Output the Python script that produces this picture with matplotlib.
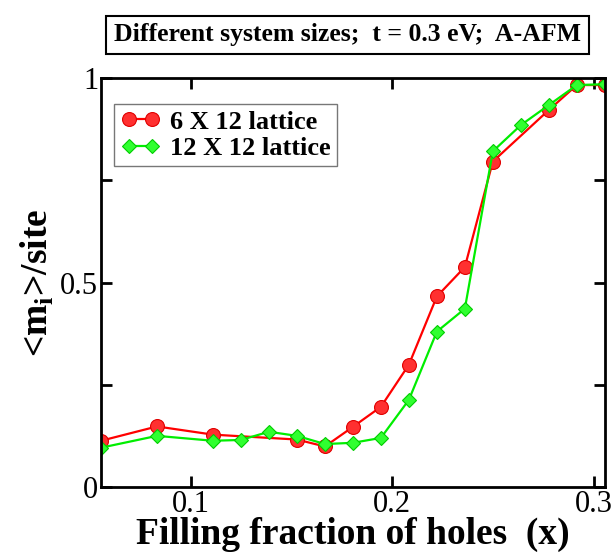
import numpy as np
import matplotlib.pyplot as plt
from matplotlib.ticker import MultipleLocator

plt.rcParams['font.family'] = ['Liberation Serif', 'DejaVu Serif']
plt.rcParams['mathtext.fontset'] = 'custom'
plt.rcParams['mathtext.rm'] = 'Liberation Serif'
plt.rcParams['mathtext.bf'] = 'Liberation Serif:bold'

# 6 X 12 lattice (holes k / 72)
k_6x12 = [4, 6, 8, 11, 12, 13, 14, 15, 16, 17, 18, 20, 21, 22]
m_6x12 = [0.113, 0.148, 0.128, 0.116, 0.099, 0.147, 0.196, 0.299, 0.466, 0.538,
          0.796, 0.922, 0.983, 0.983]

# 12 X 12 lattice (holes k / 144)
k_12x12 = [8, 12, 16, 18, 20, 22, 24, 26, 28, 30, 32, 34, 36, 38, 40, 42, 44]
m_12x12 = [0.096, 0.125, 0.113, 0.115, 0.135, 0.125, 0.105, 0.108, 0.12, 0.213,
           0.38, 0.436, 0.821, 0.885, 0.934, 0.983, 0.985]

x_6x12 = np.array(k_6x12) / 72.0
x_12x12 = np.array(k_12x12) / 144.0

fig = plt.figure(figsize=(6.14, 5.54), dpi=100)
ax = fig.add_axes([0.1645, 0.121, 0.8205, 0.738])

ax.plot(x_6x12, m_6x12, color='#ff0000', lw=1.6, marker='o', ms=10,
        mfc='#ff3030', mec='#e00000', mew=0.8, label='6 X 12 lattice')
ax.plot(x_12x12, m_12x12, color='#00ee00', lw=1.6, marker='D', ms=7.5,
        mfc='#30ff30', mec='#00cc00', mew=0.8, label='12 X 12 lattice')

ax.set_xlim(4 / 72, 22 / 72)
ax.set_ylim(0, 1)
ax.yaxis.set_minor_locator(MultipleLocator(0.25))
ax.set_xticks([0.1, 0.2, 0.3])
ax.set_xticklabels(['0.1', '0.2', '0.3'])
ax.set_yticks([0, 0.5, 1])
ax.set_yticklabels(['0', '0.5', '1'])

ax.tick_params(which='both', direction='in', top=True, right=True,
               width=2, length=8, labelsize=22, pad=2)
for s in ax.spines.values():
    s.set_linewidth(2)

ax.set_xlabel('Filling fraction of holes  (x)', fontsize=27, fontweight='bold',
              labelpad=-1)
ax.set_ylabel(r'<m$_{\mathbf{i}}$>/site', fontsize=27, fontweight='bold',
              labelpad=3)

leg = ax.legend(loc='upper left', bbox_to_anchor=(0.0, 0.97), numpoints=2,
                prop={'weight': 'bold', 'size': 19}, frameon=True, fancybox=False,
                handlelength=1.5, handletextpad=0.35, borderpad=0.25,
                labelspacing=0.1, borderaxespad=0.5)
leg.get_frame().set_edgecolor('#555555')
leg.get_frame().set_linewidth(1.0)

fig.text(0.566, 0.937, 'Different system sizes;  t = 0.3 eV;  A-AFM',
         ha='center', va='center', fontsize=18.5, fontweight='bold',
         bbox=dict(boxstyle='square,pad=0.3', fc='white', ec='black', lw=1.5))

fig.savefig('out.png', dpi=100)
